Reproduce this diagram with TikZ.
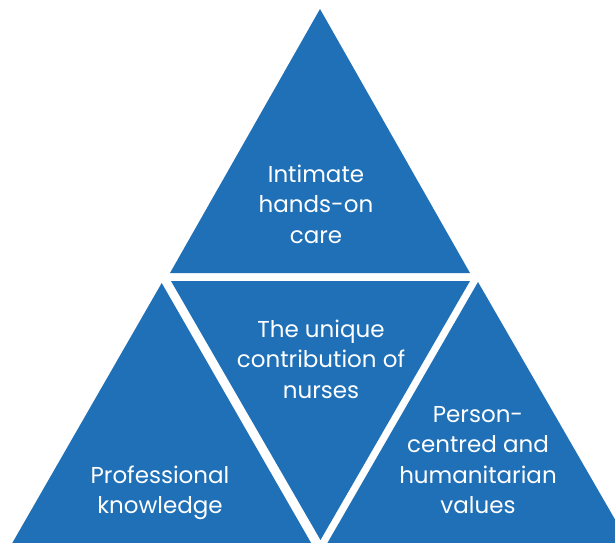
\documentclass[tikz,border=0pt]{standalone}
\usepackage{fontspec}
\setmainfont{Poppins}
\definecolor{triblue}{RGB}{31,112,183}
\begin{document}
\begin{tikzpicture}[x=1pt,y=-1pt,
  tri/.style={fill=triblue,draw=none},
  lbl/.style={text=white,align=center,inner sep=0pt,font=\fontsize{23}{30.5}\selectfont}]
\useasboundingbox (0,0) rectangle (615,542);
\clip (0,0) rectangle (615,542);
% corners
\coordinate (tA) at (320,9);
\coordinate (tL) at (170,273);
\coordinate (tR) at (470,273);
\coordinate (mL) at (171,281);
\coordinate (mR) at (470,281);
\coordinate (mB) at (320.5,540);
\coordinate (lA) at (161.7,283);
\coordinate (lL) at (2.5,560);
\coordinate (lR) at (320.9,560);
\coordinate (rA) at (478,282);
\coordinate (rL) at (317.6,560);
\coordinate (rR) at (638.4,560);
\fill[tri] (tA) -- (tL) -- (tR) -- cycle;
\fill[tri] (mL) -- (mR) -- (mB) -- cycle;
\fill[tri] (lA) -- (lL) -- (lR) -- cycle;
\fill[tri] (rA) -- (rL) -- (rR) -- cycle;
\node[lbl] (top) at (316,204) {Intimate\\hands-on\\care};
\node[lbl] (mid) at (321,359) {The unique\\contribution of\\nurses};
\node[lbl] (left) at (160,493) {Professional\\knowledge};
\node[lbl] (right) at (478,460) {Person-\\centred and\\humanitarian\\values};
\end{tikzpicture}
\end{document}
